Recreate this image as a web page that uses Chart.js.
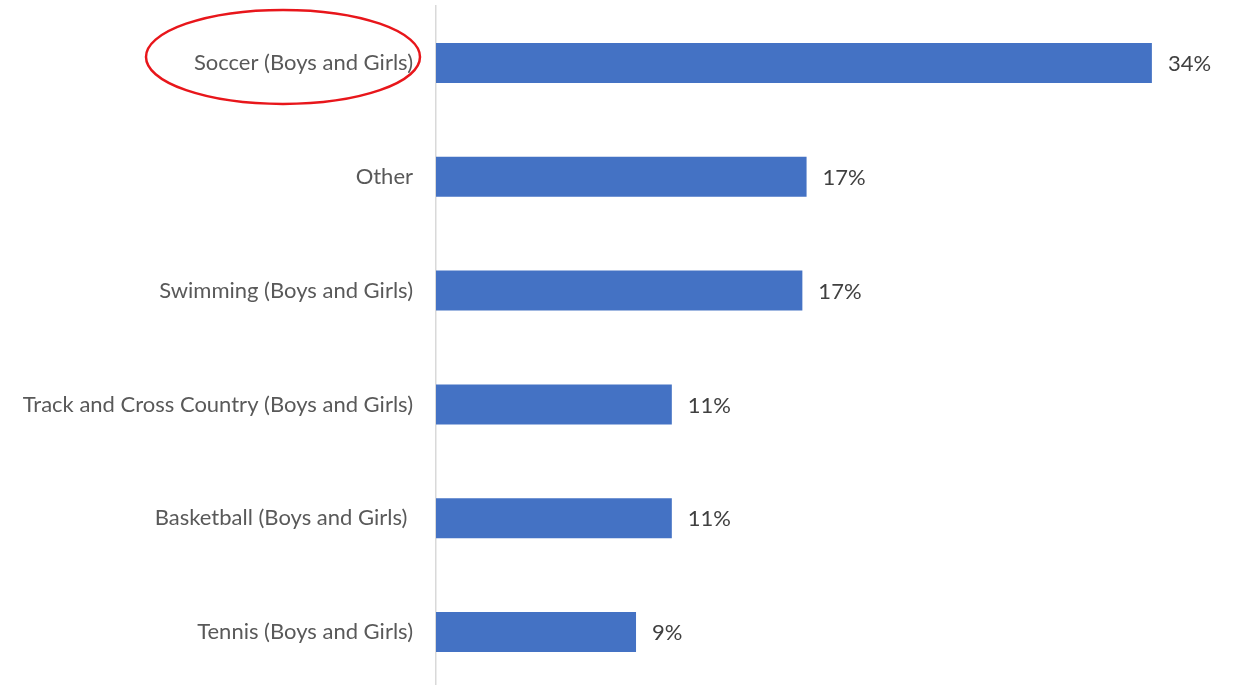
<!DOCTYPE html>
<html>
<head>
<meta charset="utf-8">
<script src="https://cdn.jsdelivr.net/npm/chart.js@4.4.1/dist/chart.umd.min.js"></script>
<style>
  html, body { margin: 0; padding: 0; background: #fff; overflow: hidden; }
  #wrap { width: 1234px; height: 689px; position: relative; }
</style>
</head>
<body>
<div id="wrap"><canvas id="sportsChart"></canvas></div>
<script>
// --- dados do gráfico ---
const categories = [
    'Soccer (Boys and Girls)',
    'Other',
    'Swimming (Boys and Girls)',
    'Track and Cross Country (Boys and Girls)',
    'Basketball (Boys and Girls) ',
    'Tennis (Boys and Girls)'
];
const shares = [34.0, 17.6, 17.4, 11.2, 11.2, 9.5];
const shareLabels = ['34%', '17%', '17%', '11%', '11%', '9%'];
const highlightIndex = 0;

const FONT = 'Lato, "Open Sans", sans-serif';

// rótulos de valor à direita das barras
const valueLabels = {
    id: 'valueLabels',
    afterDatasetsDraw(chart) {
        const ctx = chart.ctx;
        const meta = chart.getDatasetMeta(0);
        ctx.save();
        ctx.font = '22px ' + FONT;
        ctx.fillStyle = '#404040';
        ctx.textAlign = 'left';
        ctx.textBaseline = 'middle';
        meta.data.forEach((bar, i) => {
            ctx.fillText(shareLabels[i], bar.x + 16, bar.y + 1);
        });
        ctx.restore();
    }
};

// elipse vermelha em volta da categoria destacada
const highlightRing = {
    id: 'highlightRing',
    afterDraw(chart) {
        const y = chart.scales.y.getPixelForValue(highlightIndex);
        const ctx = chart.ctx;
        ctx.save();
        ctx.strokeStyle = '#e8161b';
        ctx.lineWidth = 2.5;
        ctx.beginPath();
        ctx.ellipse(283, y - 6, 137, 47, 0, 0, Math.PI * 2);
        ctx.stroke();
        ctx.restore();
    }
};

new Chart(document.getElementById('sportsChart').getContext('2d'), {
    type: 'bar',
    data: {
        labels: categories,
        datasets: [{
            data: shares,
            backgroundColor: '#4472c4',
            barPercentage: 0.352,
            categoryPercentage: 1.0
        }]
    },
    options: {
        indexAxis: 'y',
        responsive: true,
        maintainAspectRatio: false,
        animation: false,
        layout: { padding: { top: 6, right: 40, bottom: 0, left: 0 } },
        plugins: {
            legend: { display: false },
            tooltip: { enabled: false }
        },
        scales: {
            x: {
                display: false,
                min: 0,
                max: 36
            },
            y: {
                afterFit(scale) {
                    // largura fixa do eixo e sem folga vertical extra
                    scale.width = 436;
                    scale.paddingTop = 0;
                    scale.paddingBottom = 0;
                },
                grid: { display: false, drawTicks: false },
                border: { display: true, color: '#d9d9d9', width: 1.5 },
                ticks: {
                    padding: 23,
                    color: '#595959',
                    font: { family: FONT, size: 22 }
                }
            }
        }
    },
    plugins: [valueLabels, highlightRing]
});
</script>
</body>
</html>
